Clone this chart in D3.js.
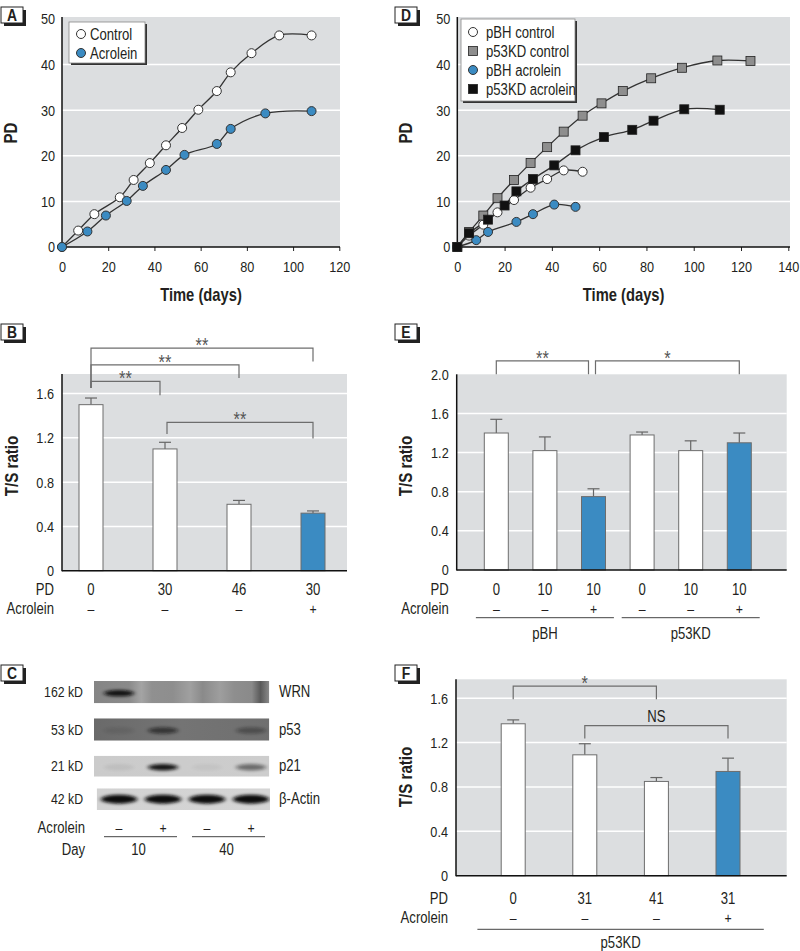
<!DOCTYPE html>
<html><head><meta charset="utf-8">
<script src="https://cdn.jsdelivr.net/npm/d3@7/dist/d3.min.js"></script>
<style>
html,body{margin:0;padding:0;background:#fff;}
svg text{font-family:"Liberation Sans",Arial,sans-serif;fill:#231f20;}
</style></head><body>
<svg id="fig" width="800" height="951" xmlns="http://www.w3.org/2000/svg"></svg>
<script>
// ================= DATA =================
// Panel A : population doublings vs time
const aControlDays  = [0,7,14,25,31,38,45,52,59,67,73,82,94,108];
const aControlPD    = [0,3.6,7.2,10.9,14.7,18.4,22.3,26.1,30.1,34.2,38.3,42.5,46.4,46.4];
const aAcroleinDays = [0,11,19,28,35,45,53,67,73,88,108];
const aAcroleinPD   = [0,3.4,6.9,10.1,13.4,16.9,20.2,22.6,25.9,29.3,29.8];
const aXTicks = [0,20,40,60,80,100,120];
const pdTicks = [0,10,20,30,40,50];
// Panel D
const dPbhCtlDays = [0,5,11,17,24,31,38,45,53];
const dPbhCtlPD   = [0,2.5,4.9,7.6,10.3,13.0,14.9,16.8,16.5];
const dP53CtlDays = [0,5,11,17,24,31,38,45,53,61,70,82,95,110,124];
const dP53CtlPD   = [0,3.3,6.9,10.7,14.7,18.4,21.9,25.3,28.8,31.5,34.2,37.0,39.3,40.9,40.8];
const dPbhAcrDays = [0,8,13,25,32,41,50];
const dPbhAcrPD   = [0,1.5,3.3,5.5,7.2,9.3,8.8];
const dP53AcrDays = [0,5,13,20,25,32,41,50,62,74,83,96,111];
const dP53AcrPD   = [0,3.0,6.0,9.1,12.2,14.9,17.9,21.2,24.1,25.7,27.7,30.2,30.1];
const dXTicks = [0,20,40,60,80,100,120,140];
// Panel B : T/S ratio
const bPD       = ["0","30","46","30"];
const bAcrolein = ["–","–","–","+"];
const bRatio    = [1.50,1.10,0.60,0.52];
const bError    = [0.06,0.06,0.035,0.02];
const bTicks    = [0,0.4,0.8,1.2,1.6];
const bBrackets = [
  {from:0,to:3,level:2.01,fromEnd:1.65,toEnd:1.89,label:"**"},
  {from:0,to:2,level:1.86,fromEnd:1.65,toEnd:1.74,label:"**"},
  {from:0,to:1,level:1.71,fromEnd:1.65,toEnd:1.585,label:"**"},
  {from:1,to:3,level:1.34,fromEnd:1.234,toEnd:1.195,label:"**"}
];
// Panel E
const ePD       = ["0","10","10","0","10","10"];
const eAcrolein = ["–","–","+","–","–","+"];
const eRatio    = [1.40,1.22,0.75,1.38,1.22,1.30];
const eError    = [0.14,0.14,0.08,0.03,0.10,0.10];
const eTicks    = [0,0.4,0.8,1.2,1.6,2.0];
const eGroups   = [{name:"pBH",from:0,to:2},{name:"p53KD",from:3,to:5}];
const eBrackets = [
  {from:0,to:2,level:2.137,fromEnd:2.0,toEnd:2.0,label:"**"},
  {from:2,to:5,level:2.137,fromEnd:2.0,toEnd:2.0,label:"*"}
];
// Panel F
const fPD       = ["0","31","41","31"];
const fAcrolein = ["–","–","–","+"];
const fRatio    = [1.37,1.09,0.85,0.94];
const fError    = [0.035,0.10,0.035,0.12];
const fTicks    = [0,0.4,0.8,1.2,1.6];
const fGroups   = [{name:"p53KD",from:0,to:3}];
const fBrackets = [
  {from:0,to:2,level:1.71,fromEnd:1.59,toEnd:1.59,label:"*"},
  {from:1,to:3,level:1.353,fromEnd:1.237,toEnd:1.237,label:"NS"}
];
// Panel C : Western blot
const blotProteins = ["WRN","p53","p21","β-Actin"];
const blotSizes    = ["162 kD","53 kD","21 kD","42 kD"];
const blotAcrolein = ["–","+","–","+"];
const blotDays     = ["10","40"];
const blotBand     = [[0.95,0.0,0.0,0.0],[0.1,0.6,0.0,0.35],[0.06,0.95,0.04,0.5],[1,1,1,1]];

// ================= DRAWING =================
const svg = d3.select("#fig");
const BG = "#dcdee0", BLUE = "#3b8bc2", INK = "#231f20";
const NARROW = 0.82;

function panelLabel(x,y,letter){
  svg.append("rect").attr("x",x+3).attr("y",y+3).attr("width",22).attr("height",16).attr("fill","#222");
  svg.append("rect").attr("x",x).attr("y",y).attr("width",22).attr("height",16).attr("fill","#fff").attr("stroke","#222").attr("stroke-width",1);
  svg.append("text").attr("x",x+11).attr("y",y+13.5).attr("text-anchor","middle")
    .attr("font-weight","bold").attr("font-size",17).text(letter);
}
function vTitle(x,y,txt){
  svg.append("text").attr("transform",`translate(${x},${y}) rotate(-90)`).attr("text-anchor","middle")
    .attr("font-weight","bold").attr("font-size",18.5).text(txt);
}
function cleanAxis(g,size){
  g.attr("font-family",null).attr("font-size",null);
  g.selectAll("text").attr("fill",INK).style("font-size",size+"px");
  g.select(".domain").remove();
}

// ---------- line charts ----------
function lineChart(c){
  const x = d3.scaleLinear().domain([0,c.xMax]).range([c.x0,c.x1]);
  const y = d3.scaleLinear().domain([0,50]).range([247,19]);
  const g = svg.append("g");
  g.append("rect").attr("x",c.x0).attr("y",17).attr("width",c.bgRight-c.x0).attr("height",247-17).attr("fill",BG);
  g.selectAll("line.grid").data(pdTicks.filter(v=>v>0&&v<50)).join("line").attr("class","grid")
    .attr("x1",c.x0).attr("x2",c.bgRight).attr("y1",d=>y(d)).attr("y2",d=>y(d))
    .attr("stroke","#fff").attr("stroke-width",1.5);
  const xa = g.append("g").attr("transform","translate(0,247)")
    .call(d3.axisBottom(x).tickValues(c.xTicks).tickSize(4).tickSizeOuter(0).tickPadding(10).tickFormat(d3.format("d")));
  cleanAxis(xa,15.5); xa.selectAll("line").attr("stroke","#222");
  const ya = g.append("g").attr("transform",`translate(${c.x0},0)`)
    .call(d3.axisLeft(y).tickValues(pdTicks).tickSize(0).tickPadding(7));
  cleanAxis(ya,15.5);
  g.append("line").attr("x1",c.x0).attr("x2",c.x0).attr("y1",17).attr("y2",247.5).attr("stroke","#111").attr("stroke-width",1.5);
  g.append("line").attr("x1",c.x0).attr("x2",c.bgRight).attr("y1",247).attr("y2",247).attr("stroke","#111").attr("stroke-width",1.5);
  const line = d3.line().x(d=>x(d[0])).y(d=>y(d[1])).curve(d3.curveCatmullRom.alpha(0.5));
  c.series.forEach(s=>{
    const pts = d3.zip(s.days,s.pd);
    g.append("path").attr("d",line(pts)).attr("fill","none").attr("stroke","#333").attr("stroke-width",1.3);
  });
  c.series.forEach(s=>{
    const pts = d3.zip(s.days,s.pd);
    if(s.shape==="circle"){
      g.selectAll(null).data(pts).join("circle").attr("cx",d=>x(d[0])).attr("cy",d=>y(d[1])).attr("r",4.5)
        .attr("fill",s.fill).attr("stroke","#333").attr("stroke-width",1);
    } else {
      g.selectAll(null).data(pts).join("rect").attr("x",d=>x(d[0])-4.5).attr("y",d=>y(d[1])-4.5)
        .attr("width",9).attr("height",9).attr("fill",s.fill).attr("stroke","#222").attr("stroke-width",0.8);
    }
  });
  const L = c.legend;
  g.append("rect").attr("x",L.x+2).attr("y",L.y+2).attr("width",L.w).attr("height",L.h).attr("fill","#333");
  g.append("rect").attr("x",L.x).attr("y",L.y).attr("width",L.w).attr("height",L.h).attr("fill","#fff").attr("stroke","#888").attr("stroke-width",0.8);
  c.series.forEach((s,i)=>{
    const cy = L.y + L.first + i*L.step;
    if(s.shape==="circle") g.append("circle").attr("cx",L.x+12).attr("cy",cy).attr("r",4.5).attr("fill",s.fill).attr("stroke","#333");
    else g.append("rect").attr("x",L.x+7.5).attr("y",cy-4.5).attr("width",9).attr("height",9).attr("fill",s.fill).attr("stroke","#222").attr("stroke-width",0.8);
    g.append("text").attr("x",L.x+L.tx).attr("y",cy+5.5).attr("font-size",16).text(s.name);
  });
  g.append("text").attr("x",(c.x0+c.bgRight)/2).attr("y",301).attr("text-anchor","middle").attr("font-weight","bold").attr("font-size",18).text("Time (days)");
}

lineChart({x0:62,x1:339.3,bgRight:340,xMax:120,xTicks:aXTicks,
  series:[{name:"Control",days:aControlDays,pd:aControlPD,shape:"circle",fill:"#fff"},
          {name:"Acrolein",days:aAcroleinDays,pd:aAcroleinPD,shape:"circle",fill:BLUE}],
  legend:{x:69,y:22,w:76,h:41,first:12,step:19,tx:21}});
lineChart({x0:457.3,x1:788.3,bgRight:790,xMax:140,xTicks:dXTicks,
  series:[{name:"pBH control",days:dPbhCtlDays,pd:dPbhCtlPD,shape:"circle",fill:"#fff"},
          {name:"p53KD control",days:dP53CtlDays,pd:dP53CtlPD,shape:"square",fill:"#8e8e8e"},
          {name:"pBH acrolein",days:dPbhAcrDays,pd:dPbhAcrPD,shape:"circle",fill:BLUE},
          {name:"p53KD acrolein",days:dP53AcrDays,pd:dP53AcrPD,shape:"square",fill:"#111"}],
  legend:{x:461,y:19,w:114,h:82,first:13,step:19,tx:25}});
vTitle(17,133,"PD"); vTitle(411.5,133,"PD");
panelLabel(1,7,"A"); panelLabel(395,7,"D");

// ---------- bar charts ----------
function barChart(c){
  const y = d3.scaleLinear().domain([0,c.yMax]).range([c.yBot,c.yTop]);
  const x = d3.scalePoint().domain(d3.range(c.values.length)).range(c.band).padding(0.5);
  const g = svg.append("g");
  const barW = 24;
  g.append("rect").attr("x",c.xL).attr("y",c.yTop).attr("width",c.xR-c.xL).attr("height",c.yBot-c.yTop).attr("fill",BG);
  g.selectAll(null).data(c.ticks.filter(v=>v>0 && y(v)>c.yTop+1)).join("line")
    .attr("x1",c.xL).attr("x2",c.xR).attr("y1",d=>y(d)).attr("y2",d=>y(d)).attr("stroke","#fff").attr("stroke-width",1.5);
  const ya = g.append("g").attr("transform",`translate(${c.xL},0)`)
    .call(d3.axisLeft(y).tickValues(c.ticks).tickSize(0).tickPadding(8).tickFormat(d=>d===0?"0":d3.format(".1f")(d)));
  cleanAxis(ya,15.5);
  c.values.forEach((v,i)=>{
    const cx = x(i);
    g.append("line").attr("x1",cx).attr("x2",cx).attr("y1",y(v)).attr("y2",y(v+c.errors[i])).attr("stroke","#666").attr("stroke-width",1.2);
    g.append("line").attr("x1",cx-6).attr("x2",cx+6).attr("y1",y(v+c.errors[i])).attr("y2",y(v+c.errors[i])).attr("stroke","#666").attr("stroke-width",1.2);
  });
  g.selectAll(null).data(c.values).join("rect")
    .attr("x",(d,i)=>x(i)-barW/2).attr("y",d=>y(d)).attr("width",barW).attr("height",d=>c.yBot-y(d))
    .attr("fill",(d,i)=>c.acrolein[i]==="+"?BLUE:"#fff").attr("stroke","#6d6d6d").attr("stroke-width",1);
  g.append("line").attr("x1",c.xL).attr("x2",c.xL).attr("y1",c.yTop).attr("y2",c.yBot+0.5).attr("stroke","#111").attr("stroke-width",1.5);
  g.append("line").attr("x1",c.xL).attr("x2",c.xR).attr("y1",c.yBot).attr("y2",c.yBot).attr("stroke","#111").attr("stroke-width",1.5);
  c.brackets.forEach(b=>{
    let x1 = x(b.from), x2 = x(b.to);
    if(c.brackets.some(o=>o!==b && o.from===b.to)) x2 -= 5;
    if(c.brackets.some(o=>o!==b && o.to===b.from)) x1 += 2;
    const p = d3.path();
    p.moveTo(x1,y(b.fromEnd)); p.lineTo(x1,y(b.level)); p.lineTo(x2,y(b.level)); p.lineTo(x2,y(b.toEnd));
    g.append("path").attr("d",p.toString()).attr("fill","none").attr("stroke","#6d6d6d").attr("stroke-width",1.2);
    const isStar = /^\*+$/.test(b.label);
    g.append("text").attr("x",(x1+x2)/2).attr("y",isStar? y(b.level)+4 : y(b.level)-4)
      .attr("text-anchor","middle").attr("font-size",isStar?20:16)
      .style("fill",isStar?"#555":INK).text(b.label);
  });
  const lx = c.xL-8;
  g.append("text").attr("x",lx).attr("y",c.rowPD).attr("text-anchor","end").attr("font-size",16).text("PD");
  g.append("text").attr("x",lx).attr("y",c.rowAc).attr("text-anchor","end").attr("font-size",16).text("Acrolein");
  c.pd.forEach((t,i)=>g.append("text").attr("x",x(i)).attr("y",c.rowPD).attr("text-anchor","middle").attr("font-size",16).text(t));
  c.acrolein.forEach((t,i)=>g.append("text").attr("x",x(i)).attr("y",c.rowAc).attr("text-anchor","middle").attr("font-size",15).text(t));
  (c.groups||[]).forEach(gr=>{
    const a = x(gr.from)-x.step()*c.gExt, b = x(gr.to)+x.step()*c.gExt;
    g.append("line").attr("x1",a).attr("x2",b).attr("y1",c.gLine).attr("y2",c.gLine).attr("stroke","#444").attr("stroke-width",1);
    g.append("text").attr("x",(a+b)/2).attr("y",c.gText).attr("text-anchor","middle").attr("font-size",16).text(gr.name);
  });
}

barChart({xL:62,xR:347,yTop:374,yBot:570.7,yMax:1.777,band:[54,350],values:bRatio,errors:bError,
  acrolein:bAcrolein,pd:bPD,ticks:bTicks,brackets:bBrackets,rowPD:595,rowAc:613.5});
barChart({xL:456.7,xR:786.7,yTop:374.3,yBot:570,yMax:2.0,band:[472,763.6],values:eRatio,errors:eError,
  acrolein:eAcrolein,pd:ePD,ticks:eTicks,brackets:eBrackets,rowPD:595,rowAc:613.5,
  groups:eGroups,gExt:0.42,gLine:617.7,gText:638.5});
barChart({xL:456,xR:786.7,yTop:679.3,yBot:875.7,yMax:1.771,band:[477.4,763.8],values:fRatio,errors:fError,
  acrolein:fAcrolein,pd:fPD,ticks:fTicks,brackets:fBrackets,rowPD:904,rowAc:922.5,
  groups:fGroups,gExt:0.5,gLine:929.3,gText:947.5});
vTitle(18,466,"T/S ratio"); vTitle(412,466,"T/S ratio"); vTitle(412,777,"T/S ratio");
panelLabel(1,324,"B"); panelLabel(395,324,"E"); panelLabel(1,665,"C"); panelLabel(395,665,"F");

// ---------- western blot ----------
(function(){
  const defs = svg.append("defs");
  const f = defs.append("filter").attr("id","blur").attr("x","-50%").attr("y","-100%").attr("width","200%").attr("height","300%");
  f.append("feGaussianBlur").attr("stdDeviation","2.2 1.4");
  const rowsY = [[681,703.3],[718.3,740.7],[755.7,776.7],[788.3,810]];
  const rowsX = [[94,269.3],[94,269.3],[94,269.3],[96.7,270]];
  const rowBg = [
    [["0","#858585"],["0.2","#8a8a8a"],["0.27","#a4a4a4"],["0.33","#909090"],["0.45","#8e8e8e"],["0.55","#a0a0a0"],["0.62","#8a8a8a"],["0.72","#9e9e9e"],["0.8","#8e8e8e"],["0.9","#8a8a8a"],["0.95","#5a5a5a"],["1","#8a8a8a"]],
    [["0","#6a6a6a"],["0.5","#747474"],["1","#6f6f6f"]],
    [["0","#cbcbcb"],["1","#cdcdcd"]],
    [["0","#d2d2d2"],["1","#d5d5d5"]]
  ];
  const lane = d3.scalePoint().domain(d3.range(4)).range([97,273]).padding(0.5);
  blotProteins.forEach((p,r)=>{
    const gid = "bg"+r;
    const lg = defs.append("linearGradient").attr("id",gid);
    rowBg[r].forEach(s=>lg.append("stop").attr("offset",s[0]).attr("stop-color",s[1]));
    const [y0,y1] = rowsY[r], [x0,x1] = rowsX[r];
    const cl = defs.append("clipPath").attr("id","cl"+r);
    cl.append("rect").attr("x",x0).attr("y",y0).attr("width",x1-x0).attr("height",y1-y0);
    const g = svg.append("g").attr("clip-path",`url(#cl${r})`);
    g.append("rect").attr("x",x0).attr("y",y0).attr("width",x1-x0).attr("height",y1-y0).attr("fill",`url(#${gid})`);
    blotBand[r].forEach((v,i)=>{
      if(v<=0) return;
      const rx = r===3 ? 18 : 15, ry = r===3 ? 4.5 : 3.2;
      g.append("ellipse").attr("cx",lane(i)).attr("cy",(y0+y1)/2+(r===3?0:1)).attr("rx",rx).attr("ry",ry)
        .attr("fill","#0c0c0c").attr("opacity",v).attr("filter","url(#blur)");
    });
    svg.append("text").attr("x",83).attr("y",(y0+y1)/2+5).attr("text-anchor","end").attr("font-size",15).text(blotSizes[r]);
    svg.append("text").attr("x",279).attr("y",(y0+y1)/2+5).attr("font-size",16).text(p);
  });
  svg.append("text").attr("x",85).attr("y",832.5).attr("text-anchor","end").attr("font-size",16).text("Acrolein");
  blotAcrolein.forEach((t,i)=>svg.append("text").attr("x",lane(i)).attr("y",832.5).attr("text-anchor","middle").attr("font-size",15).text(t));
  svg.append("text").attr("x",85).attr("y",854.5).attr("text-anchor","end").attr("font-size",16).text("Day");
  blotDays.forEach((t,k)=>{
    const a = lane(2*k)-15, b = lane(2*k+1)+14;
    svg.append("line").attr("x1",a).attr("x2",b).attr("y1",836.7).attr("y2",836.7).attr("stroke","#444").attr("stroke-width",1);
    svg.append("text").attr("x",(a+b)/2-2).attr("y",854.5).attr("text-anchor","middle").attr("font-size",16).text(t);
  });
})();

// ---------- condense all text horizontally (narrow typeface look) ----------
svg.selectAll("text").each(function(){
  const t = d3.select(this);
  const x = +(t.attr("x")||0), y = +(t.attr("y")||0);
  const T = t.attr("transform")||"";
  t.attr("x",null).attr("y",null).attr("transform",`${T} translate(${x},${y}) scale(${NARROW},1)`);
});
</script>
</body></html>
